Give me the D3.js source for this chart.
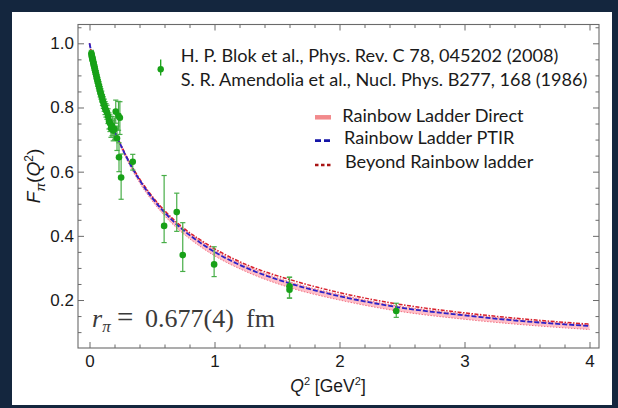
<!DOCTYPE html>
<html>
<head>
<meta charset="utf-8">
<script src="https://cdn.jsdelivr.net/npm/d3@7"></script>
<style>
  html, body { margin: 0; padding: 0; background: #14263e; }
  svg { display: block; }
</style>
</head>
<body>
<svg id="chart" width="618" height="408"></svg>
<script>
// ---- Theory curves: pion electromagnetic form factor F_pi(Q^2) ----
const curveQ2    = [0, 0.025, 0.05, 0.1, 0.15, 0.2, 0.3, 0.4, 0.5, 0.6, 0.75, 0.9, 1.0, 1.25, 1.6, 2.0, 2.46, 3.0, 3.5, 4.0];
const ptirF      = [1.000, 0.955, 0.914, 0.843, 0.781, 0.728, 0.642, 0.574, 0.519, 0.473, 0.418, 0.375, 0.350, 0.301, 0.252, 0.212, 0.178, 0.152, 0.133, 0.119];
const beyondF    = [1.000, 0.955, 0.915, 0.844, 0.783, 0.730, 0.645, 0.578, 0.524, 0.479, 0.425, 0.384, 0.360, 0.311, 0.264, 0.223, 0.188, 0.160, 0.140, 0.125];
const directLow  = [1.000, 0.954, 0.912, 0.840, 0.777, 0.723, 0.636, 0.566, 0.510, 0.463, 0.407, 0.363, 0.338, 0.289, 0.239, 0.200, 0.166, 0.140, 0.122, 0.108];
const directHigh = [1.000, 0.956, 0.916, 0.845, 0.783, 0.731, 0.645, 0.577, 0.523, 0.478, 0.423, 0.381, 0.356, 0.307, 0.257, 0.217, 0.182, 0.156, 0.136, 0.122];

// ---- Experimental data (Blok et al. 2008; Amendolia et al. 1986) ----
const dataQ2 = [0.015, 0.018, 0.020, 0.023, 0.026, 0.029, 0.032, 0.035, 0.038, 0.042,
                0.045, 0.049, 0.053, 0.057, 0.061, 0.066, 0.071, 0.076, 0.081, 0.086,
                0.092, 0.098, 0.104, 0.111, 0.118, 0.125, 0.132, 0.140, 0.148, 0.156,
                0.164, 0.172, 0.181, 0.190, 0.200, 0.210, 0.220, 0.232, 0.243,
                0.236, 0.253, 0.346, 0.597, 0.698, 0.746, 0.997, 1.600, 1.600, 2.454];
const dataF  = [0.968, 0.962, 0.957, 0.953, 0.948, 0.944, 0.938, 0.932, 0.928, 0.921,
                0.915, 0.909, 0.902, 0.895, 0.889, 0.880, 0.873, 0.866, 0.857, 0.849,
                0.842, 0.834, 0.823, 0.815, 0.807, 0.798, 0.791, 0.785, 0.773, 0.758,
                0.751, 0.735, 0.742, 0.728, 0.733, 0.787, 0.704, 0.774, 0.768,
                0.645, 0.582, 0.631, 0.431, 0.474, 0.340, 0.311, 0.243, 0.232, 0.166];
const errLo  = [0.010, 0.010, 0.010, 0.010, 0.011, 0.011, 0.011, 0.011, 0.012, 0.012,
                0.012, 0.012, 0.013, 0.013, 0.013, 0.014, 0.014, 0.015, 0.015, 0.016,
                0.016, 0.017, 0.017, 0.018, 0.019, 0.020, 0.021, 0.022, 0.023, 0.025,
                0.026, 0.028, 0.030, 0.032, 0.034, 0.036, 0.038, 0.045, 0.052,
                0.045, 0.068, 0.026, 0.052, 0.060, 0.051, 0.038, 0.037, 0.026, 0.020];
const errHi  = [0.010, 0.010, 0.010, 0.010, 0.011, 0.011, 0.011, 0.011, 0.012, 0.012,
                0.012, 0.012, 0.013, 0.013, 0.013, 0.014, 0.014, 0.015, 0.015, 0.016,
                0.016, 0.017, 0.017, 0.018, 0.019, 0.020, 0.021, 0.022, 0.023, 0.025,
                0.026, 0.028, 0.030, 0.032, 0.034, 0.036, 0.038, 0.045, 0.050,
                0.045, 0.073, 0.023, 0.157, 0.059, 0.101, 0.055, 0.028, 0.039, 0.024];

const xMajor = [0, 1, 2, 3, 4];
const yMajor = [0.2, 0.4, 0.6, 0.8, 1.0];

const refLines = ["H. P. Blok et al., Phys. Rev. C 78, 045202 (2008)",
                  "S. R. Amendolia et al., Nucl. Phys. B277, 168 (1986)"];
const theoryNames = ["Rainbow Ladder Direct", "Rainbow Ladder PTIR", "Beyond Rainbow ladder"];

// ---- Layout ----
const W = 618, H = 408;
const box = { left: 78, right: 599, top: 24.5, bottom: 348 };

const svg = d3.select("#chart");

// dark frame with white panel
svg.append("rect").attr("width", W).attr("height", H).attr("fill", "#14263e");
svg.append("rect").attr("x", 12).attr("y", 12).attr("width", 600).attr("height", 393)
   .attr("fill", "#ffffff");

const x = d3.scaleLinear().domain([-0.092, 4.076]).range([box.left, box.right]);
const y = d3.scaleLinear().domain([0.0505, 1.0586]).range([box.bottom, box.top]);

const near = (v, arr) => arr.some(a => Math.abs(a - v) < 1e-6);
const xMinor = d3.range(0, 4.001, 0.2).map(v => +v.toFixed(2)).filter(v => !near(v, xMajor));
const yMinor = d3.range(0.1, 1.051, 0.05).map(v => +v.toFixed(2)).filter(v => !near(v, yMajor));

// ---- Axes (ticks point inward on all four sides) ----
const tickFont = "'Liberation Sans', Arial, sans-serif";
function styleAxis(g) {
  g.select(".domain").remove();
  g.selectAll(".tick line").attr("stroke", "#6a6a6a").attr("stroke-width", 1);
  g.selectAll(".tick text").attr("fill", "#1a1a1a").style("font-family", tickFont).style("font-size", "17px");
}
const axes = svg.append("g");
axes.append("g").attr("transform", `translate(0,${box.bottom})`)
    .call(d3.axisBottom(x).tickValues(xMajor).tickSize(-6).tickPadding(7).tickFormat(d3.format("d"))).call(styleAxis);
axes.append("g").attr("transform", `translate(0,${box.bottom})`)
    .call(d3.axisBottom(x).tickValues(xMinor).tickSize(-3.5).tickFormat("")).call(styleAxis);
axes.append("g").attr("transform", `translate(0,${box.top})`)
    .call(d3.axisTop(x).tickValues(xMajor).tickSize(-6).tickFormat("")).call(styleAxis);
axes.append("g").attr("transform", `translate(0,${box.top})`)
    .call(d3.axisTop(x).tickValues(xMinor).tickSize(-3.5).tickFormat("")).call(styleAxis);
axes.append("g").attr("transform", `translate(${box.left},0)`)
    .call(d3.axisLeft(y).tickValues(yMajor).tickSize(-6).tickPadding(4).tickFormat(d3.format(".1f"))).call(styleAxis);
axes.append("g").attr("transform", `translate(${box.left},0)`)
    .call(d3.axisLeft(y).tickValues(yMinor).tickSize(-3.5).tickFormat("")).call(styleAxis);
axes.append("g").attr("transform", `translate(${box.right},0)`)
    .call(d3.axisRight(y).tickValues(yMajor).tickSize(-6).tickFormat("")).call(styleAxis);
axes.append("g").attr("transform", `translate(${box.right},0)`)
    .call(d3.axisRight(y).tickValues(yMinor).tickSize(-3.5).tickFormat("")).call(styleAxis);

svg.append("rect").attr("x", box.left).attr("y", box.top)
   .attr("width", box.right - box.left).attr("height", box.bottom - box.top)
   .attr("fill", "none").attr("stroke", "#6a6a6a").attr("stroke-width", 1.1);

// ---- Theory curves ----
svg.append("clipPath").attr("id", "plotClip").append("rect")
   .attr("x", box.left).attr("y", box.top)
   .attr("width", box.right - box.left).attr("height", box.bottom - box.top);
const plot = svg.append("g").attr("clip-path", "url(#plotClip)");

const idx = d3.range(curveQ2.length);
const band = d3.area().curve(d3.curveMonotoneX)
  .x(i => x(curveQ2[i])).y0(i => y(directLow[i])).y1(i => y(directHigh[i]));
const lineOf = arr => d3.line().curve(d3.curveMonotoneX).x(i => x(curveQ2[i])).y(i => y(arr[i]));

plot.append("path").attr("d", band(idx)).attr("fill", "#ffbfc8").attr("stroke", "none");
plot.append("path").attr("d", lineOf(directLow)(idx)).attr("fill", "none")
    .attr("stroke", "#f07080").attr("stroke-width", 1).attr("stroke-dasharray", "1.5,1.5");
plot.append("path").attr("d", lineOf(directHigh)(idx)).attr("fill", "none")
    .attr("stroke", "#f07080").attr("stroke-width", 1).attr("stroke-dasharray", "1.5,1.5");
plot.append("path").attr("d", lineOf(beyondF)(idx)).attr("fill", "none")
    .attr("stroke", "#d8202c").attr("stroke-width", 1.5).attr("stroke-dasharray", "4,1.5,1.5,1.5");
plot.append("path").attr("d", lineOf(ptirF)(idx)).attr("fill", "none")
    .attr("stroke", "#2a22c8").attr("stroke-width", 1.8).attr("stroke-dasharray", "5,2");

// ---- Data points with error bars ----
const dotColor = "#17a117", barColor = "#47ad47";
const pts = svg.append("g");
const di = d3.range(dataQ2.length);
const cap = 2.6;
pts.selectAll("line.bar").data(di).join("line").attr("class", "bar")
   .attr("x1", i => x(dataQ2[i])).attr("x2", i => x(dataQ2[i]))
   .attr("y1", i => y(dataF[i] - errLo[i])).attr("y2", i => y(dataF[i] + errHi[i]))
   .attr("stroke", barColor).attr("stroke-width", 1.2);
pts.selectAll("line.capLo").data(di).join("line").attr("class", "capLo")
   .attr("x1", i => x(dataQ2[i]) - cap).attr("x2", i => x(dataQ2[i]) + cap)
   .attr("y1", i => y(dataF[i] - errLo[i])).attr("y2", i => y(dataF[i] - errLo[i]))
   .attr("stroke", barColor).attr("stroke-width", 1.2);
pts.selectAll("line.capHi").data(di).join("line").attr("class", "capHi")
   .attr("x1", i => x(dataQ2[i]) - cap).attr("x2", i => x(dataQ2[i]) + cap)
   .attr("y1", i => y(dataF[i] + errHi[i])).attr("y2", i => y(dataF[i] + errHi[i]))
   .attr("stroke", barColor).attr("stroke-width", 1.2);
pts.selectAll("circle").data(di).join("circle")
   .attr("cx", i => x(dataQ2[i])).attr("cy", i => y(dataF[i])).attr("r", 3.3)
   .attr("fill", dotColor);

// ---- Axis titles ----
const serif = "'Liberation Serif', 'Times New Roman', serif";
const xt = svg.append("text").attr("x", 328).attr("y", 392).attr("text-anchor", "middle")
   .style("font-family", tickFont).style("font-size", "17.5px").attr("fill", "#1a1a1a");
xt.append("tspan").style("font-style", "italic").text("Q");
xt.append("tspan").attr("dy", -7).style("font-size", "11px").text("2");
xt.append("tspan").attr("dy", 7).text(" [GeV");
xt.append("tspan").attr("dy", -7).style("font-size", "11px").text("2");
xt.append("tspan").attr("dy", 7).text("]");

const yt = svg.append("text").attr("transform", "translate(40,176) rotate(-90)")
   .attr("text-anchor", "middle")
   .style("font-family", tickFont).style("font-size", "19px").attr("fill", "#1a1a1a");
yt.append("tspan").style("font-style", "italic").text("F");
yt.append("tspan").attr("dy", 5).style("font-size", "13px").style("font-style", "italic").text("π");
yt.append("tspan").attr("dy", -5).text("(");
yt.append("tspan").style("font-style", "italic").text("Q");
yt.append("tspan").attr("dy", -7).style("font-size", "12px").text("2");
yt.append("tspan").attr("dy", 7).text(")");

// ---- Charge radius annotation ----
const rt = svg.append("text").attr("y", 327)
   .style("font-family", serif).style("font-size", "26px").attr("fill", "#3a3a3a");
rt.append("tspan").attr("x", 92).style("font-style", "italic").text("r");
rt.append("tspan").attr("dy", 5).style("font-size", "17px").style("font-style", "italic").text("π");
rt.append("tspan").attr("x", 117).attr("dy", -5).style("font-size", "29px").text("=");
rt.append("tspan").attr("x", 145).text("0.677(4)");
rt.append("tspan").attr("x", 246).text("fm");

// ---- Legends ----
const legFont = "Lato, 'Open Sans', sans-serif";
const leg = svg.append("g").style("font-family", legFont).attr("fill", "#1a1a1a");

// marker for the data sets
leg.append("line").attr("x1", 160.7).attr("x2", 160.7).attr("y1", 59.5).attr("y2", 75.5)
   .attr("stroke", dotColor).attr("stroke-width", 1.3);
leg.append("circle").attr("cx", 160.7).attr("cy", 69.3).attr("r", 3.2).attr("fill", dotColor);

const refBase = [62.3, 85.6];
const refText = leg.selectAll("text.ref").data(refLines).join("text").attr("class", "ref")
   .attr("x", 180.7).attr("y", (d, i) => refBase[i]).style("font-size", "17px").text(d => d);
// scale the legend font so the longer reference line spans its slot
const refW = refText.nodes()[1].getComputedTextLength();
const legSize = 17 * 407 / refW;
refText.style("font-size", legSize + "px");

const thBase = [121.7, 144.3, 168.3];
const thX = [342.3, 344, 345];
leg.selectAll("text.th").data(theoryNames).join("text").attr("class", "th")
   .attr("x", (d, i) => thX[i]).attr("y", (d, i) => thBase[i])
   .style("font-size", legSize + "px").text(d => d);

const sw = [
  { color: "#f28a8c", width: 4.5, dash: null },
  { color: "#1414a6", width: 2.6, dash: "6,3" },
  { color: "#a81414", width: 2.6, dash: "3.5,2.5" }
];
const swY = [117.3, 140.6, 165];
leg.selectAll("line.sw").data(sw).join("line").attr("class", "sw")
   .attr("x1", 315).attr("x2", 331)
   .attr("y1", (d, i) => swY[i]).attr("y2", (d, i) => swY[i])
   .attr("stroke", d => d.color).attr("stroke-width", d => d.width)
   .attr("stroke-dasharray", d => d.dash);
</script>
</body>
</html>
